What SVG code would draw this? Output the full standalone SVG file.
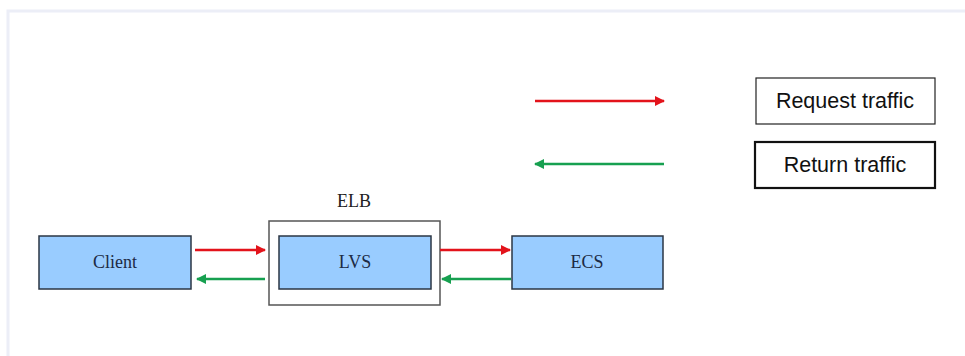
<svg xmlns="http://www.w3.org/2000/svg" width="965" height="356" viewBox="0 0 965 356">
<style>
.node{fill:#99ccff;stroke:#2b3644;stroke-width:1.5}
.lbl{font-family:"Liberation Serif","Times New Roman",serif;font-size:18px;fill:#1c2a44;text-anchor:middle}
.leg{font-family:"Liberation Sans",Arial,sans-serif;font-size:21.5px;fill:#111;text-anchor:middle}
.req{stroke:#e3131b;stroke-width:2.5;fill:none}
.ret{stroke:#17a050;stroke-width:2.5;fill:none}
</style>
<defs>
<marker id="ar" viewBox="0 0 10 10" refX="9" refY="5" markerWidth="4.4" markerHeight="4" orient="auto" markerUnits="strokeWidth"><path d="M0,0 L10,5 L0,10 Z" fill="#e3131b"/></marker>
<marker id="ag" viewBox="0 0 10 10" refX="9" refY="5" markerWidth="4.4" markerHeight="4" orient="auto" markerUnits="strokeWidth"><path d="M0,0 L10,5 L0,10 Z" fill="#17a050"/></marker>
</defs>
<rect x="0" y="0" width="965" height="356" fill="#ffffff"/>
<rect x="8" y="11" width="965" height="350" fill="#ffffff" stroke="#eceef7" stroke-width="3"/>
<g id="elb">
<rect x="269" y="221" width="171" height="84" fill="#ffffff" stroke="#555" stroke-width="1.5"/>
<text class="lbl" x="354" y="207" style="fill:#222">ELB</text>
</g>
<g id="client">
<rect class="node" x="39" y="236" width="152" height="53"/>
<text class="lbl" x="115" y="268">Client</text>
</g>
<g id="lvs">
<rect class="node" x="279" y="236" width="152" height="53"/>
<text class="lbl" x="355" y="268">LVS</text>
</g>
<g id="ecs">
<rect class="node" x="512" y="236" width="151" height="53"/>
<text class="lbl" x="587" y="268">ECS</text>
</g>
<g id="legend-request">
<rect x="756" y="78" width="179" height="46" fill="#fff" stroke="#222" stroke-width="1.2"/>
<text class="leg" x="845" y="108">Request traffic</text>
</g>
<g id="legend-return">
<rect x="755" y="142" width="180" height="46" fill="#fff" stroke="#111" stroke-width="2.2"/>
<text class="leg" x="845" y="172">Return traffic</text>
</g>
<g id="connectors">
<line class="req" x1="195" y1="250" x2="265" y2="250" marker-end="url(#ar)"/>
<line class="ret" x1="265" y1="279" x2="197" y2="279" marker-end="url(#ag)"/>
<line class="req" x1="440" y1="250" x2="510" y2="250" marker-end="url(#ar)"/>
<line class="ret" x1="511" y1="279" x2="442" y2="279" marker-end="url(#ag)"/>
<line class="req" x1="535" y1="101" x2="664" y2="101" marker-end="url(#ar)"/>
<line class="ret" x1="664" y1="164" x2="535" y2="164" marker-end="url(#ag)"/>
</g>
</svg>
